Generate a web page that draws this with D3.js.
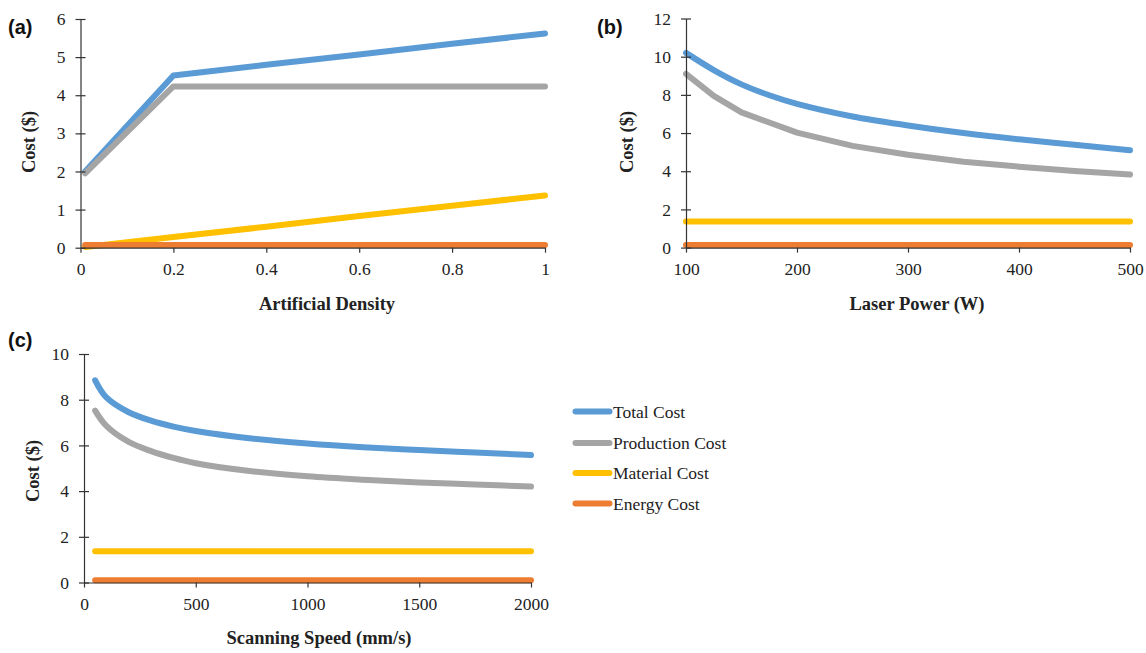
<!DOCTYPE html>
<html><head><meta charset="utf-8">
<script src="https://cdn.jsdelivr.net/npm/d3@7"></script>
<style>
body{margin:0;background:#fff;}
svg{display:block;}
</style>
</head><body>
<svg id="chart" width="1146" height="653"></svg>
<script>
// ---------- DATA ----------
const seriesNames = ["Total Cost", "Production Cost", "Material Cost", "Energy Cost"];
const seriesColors = ["#5B9BD5", "#A5A5A5", "#FFC000", "#ED7D31"];

// (a) Artificial Density
const densityX = [0.01, 0.2, 0.4, 0.6, 0.8, 1.0];
const densityTotal = [2.0, 4.52, 4.8, 5.07, 5.35, 5.62];
const densityProduction = [1.95, 4.23, 4.23, 4.23, 4.23, 4.23];
const densityMaterial = [0.02, 0.28, 0.55, 0.83, 1.1, 1.37];
const densityEnergy = [0.07, 0.07, 0.07, 0.07, 0.07, 0.07];
const densityTicksX = [0, 0.2, 0.4, 0.6, 0.8, 1];
const densityTicksY = [0, 1, 2, 3, 4, 5, 6];

// (b) Laser Power
const powerX = [100, 125, 150, 175, 200, 250, 300, 350, 400, 450, 500];
const powerTotal = [10.2, 9.3, 8.55, 7.98, 7.53, 6.87, 6.4, 6.0, 5.67, 5.39, 5.1];
const powerProduction = [9.1, 7.95, 7.08, 6.55, 6.02, 5.33, 4.86, 4.5, 4.24, 4.01, 3.83];
const powerMaterial = [1.37, 1.37, 1.37, 1.37, 1.37, 1.37, 1.37, 1.37, 1.37, 1.37, 1.37];
const powerEnergy = [0.13, 0.13, 0.13, 0.13, 0.13, 0.13, 0.13, 0.13, 0.13, 0.13, 0.13];
const powerTicksX = [100, 200, 300, 400, 500];
const powerTicksY = [0, 2, 4, 6, 8, 10, 12];

// (c) Scanning Speed
const speedX = [50, 100, 200, 300, 400, 500, 750, 1000, 1250, 1500, 1750, 2000];
const speedTotal = [8.85, 8.1, 7.45, 7.08, 6.82, 6.63, 6.3, 6.08, 5.92, 5.8, 5.69, 5.58];
const speedProduction = [7.52, 6.85, 6.15, 5.75, 5.45, 5.22, 4.87, 4.65, 4.5, 4.38, 4.29, 4.2];
const speedMaterial = [1.37, 1.37, 1.37, 1.37, 1.37, 1.37, 1.37, 1.37, 1.37, 1.37, 1.37, 1.37];
const speedEnergy = [0.1, 0.1, 0.1, 0.1, 0.1, 0.1, 0.1, 0.1, 0.1, 0.1, 0.1, 0.1];
const speedTicksX = [0, 500, 1000, 1500, 2000];
const speedTicksY = [0, 2, 4, 6, 8, 10];

// ---------- LAYOUT ----------
const svg = d3.select("#chart");
const serif = '"Liberation Serif", "Times New Roman", serif';
const sans = '"Liberation Sans", Arial, sans-serif';

const panels = [
  {label: "(a)", lx: 8, ly: 34, title: "Artificial Density", ytitleX: 29, ytitleY: 142, xtitleX: 327, xtitleY: 310,
   left: 80.5, right: 545, top: 19, bottom: 247.7, xdom: [0, 1], ydom: [0, 6],
   xt: densityTicksX, yt: densityTicksY, fmt: d => d === 0 || d === 1 ? String(d) : d3.format(".1f")(d),
   x: densityX, ys: [densityTotal, densityProduction, densityMaterial, densityEnergy], curve: [d3.curveLinear, d3.curveLinear]},
  {label: "(b)", lx: 597, ly: 34, title: "Laser Power (W)", ytitleX: 627, ytitleY: 142, xtitleX: 917, xtitleY: 310,
   left: 686, right: 1130, top: 18.5, bottom: 247.6, xdom: [100, 500], ydom: [0, 12],
   xt: powerTicksX, yt: powerTicksY, fmt: d => String(d),
   x: powerX, ys: [powerTotal, powerProduction, powerMaterial, powerEnergy], curve: [d3.curveCatmullRom, d3.curveLinear]},
  {label: "(c)", lx: 8, ly: 347, title: "Scanning Speed (mm/s)", ytitleX: 33, ytitleY: 471, xtitleX: 319, xtitleY: 644,
   left: 84, right: 531, top: 354, bottom: 582.5, xdom: [0, 2000], ydom: [0, 10],
   xt: speedTicksX, yt: speedTicksY, fmt: d => String(d),
   x: speedX, ys: [speedTotal, speedProduction, speedMaterial, speedEnergy], curve: [d3.curveCatmullRom, d3.curveCatmullRom]}
];

panels.forEach(p => {
  const x = d3.scaleLinear().domain(p.xdom).range([p.left, p.right]);
  const y = d3.scaleLinear().domain(p.ydom).range([p.bottom, p.top]);
  const g = svg.append("g");

  // series lines
  p.ys.forEach((vals, i) => {
    const line = d3.line()
      .x((d, k) => x(p.x[k]))
      .y(d => y(d))
      .curve(i < 2 ? p.curve[i] : d3.curveLinear);
    g.append("path").datum(vals)
      .attr("d", line)
      .attr("fill", "none")
      .attr("stroke", seriesColors[i])
      .attr("stroke-width", 6)
      .attr("stroke-linecap", "round")
      .attr("stroke-linejoin", "round");
  });

  // axes
  const yAxis = d3.axisLeft(y).tickValues(p.yt).tickSize(5).tickSizeOuter(0).tickPadding(10).tickFormat(d => String(d));
  const yg = g.append("g").attr("transform", `translate(${p.left},0)`).call(yAxis);
  yg.selectAll(".tick line").attr("x1", 5);
  const xAxis = d3.axisBottom(x).tickValues(p.xt).tickSize(5).tickSizeOuter(0).tickPadding(10).tickFormat(p.fmt);
  const xg = g.append("g").attr("transform", `translate(0,${p.bottom})`).call(xAxis);
  [yg, xg].forEach(a => {
    a.attr("font-family", null).attr("font-size", null);
    a.select(".domain").attr("stroke", "#333").attr("stroke-width", 1.2);
    a.selectAll(".tick line").attr("stroke", "#333").attr("stroke-width", 1.2);
    a.selectAll(".tick text")
      .style("font-family", serif).style("font-size", "17.5px").style("fill", "#222");
  });

  // titles
  g.append("text").attr("x", p.xtitleX).attr("y", p.xtitleY)
    .attr("text-anchor", "middle")
    .style("font-family", serif).style("font-weight", "bold").style("font-size", "18.5px")
    .attr("fill", "#222").text(p.title);
  g.append("text")
    .attr("transform", `translate(${p.ytitleX},${p.ytitleY}) rotate(-90)`)
    .attr("text-anchor", "middle").attr("dominant-baseline", "central")
    .style("font-family", serif).style("font-weight", "bold").style("font-size", "18.5px")
    .attr("fill", "#222").text("Cost ($)");
  g.append("text").attr("x", p.lx).attr("y", p.ly)
    .style("font-family", sans).style("font-weight", "bold").style("font-size", "20px")
    .attr("fill", "#111").text(p.label);
});

// legend
const legendY = [411.5, 443, 473, 503.5];
const lg = svg.append("g");
seriesNames.forEach((name, i) => {
  lg.append("line").attr("x1", 575.5).attr("x2", 609.5)
    .attr("y1", legendY[i]).attr("y2", legendY[i])
    .attr("stroke", seriesColors[i]).attr("stroke-width", 6).attr("stroke-linecap", "round");
  lg.append("text").attr("x", 613).attr("y", legendY[i])
    .attr("dominant-baseline", "central")
    .style("font-family", serif).style("font-size", "17.5px").attr("fill", "#222").text(name);
});
</script>
</body></html>
